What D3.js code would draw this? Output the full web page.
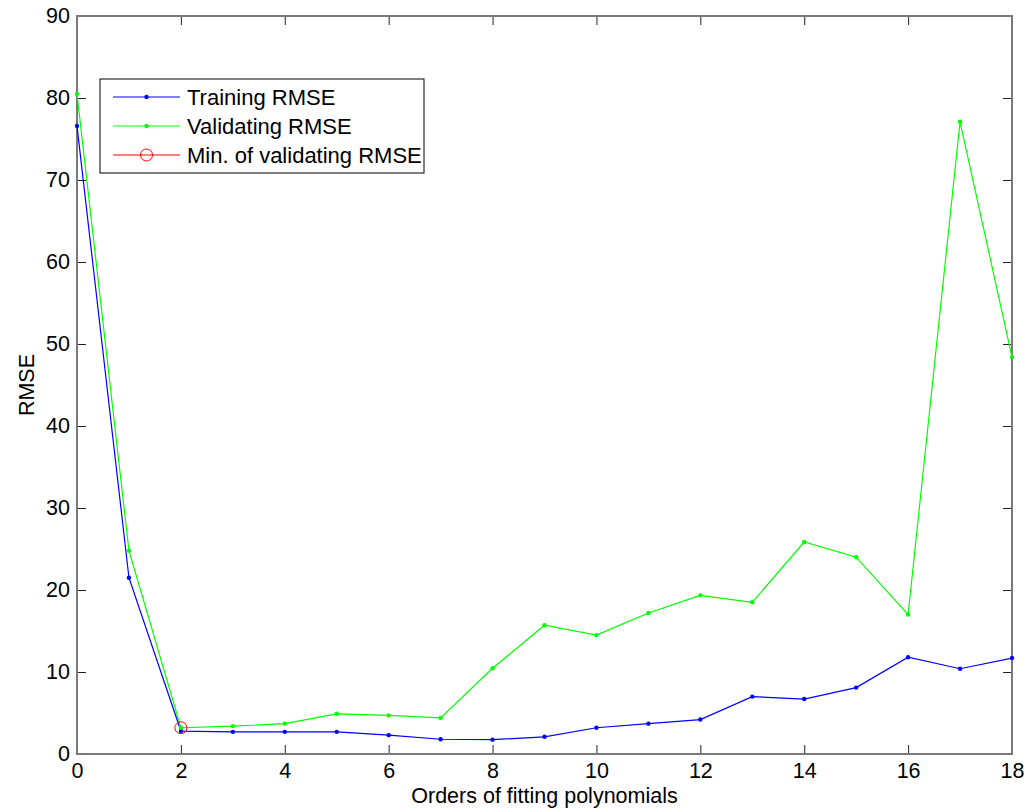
<!DOCTYPE html>
<html>
<head>
<meta charset="utf-8">
<script src="https://cdn.jsdelivr.net/npm/d3@7"></script>
<style>
  body { margin: 0; background: #fff; }
  svg text { font-family: "Liberation Sans", Arial, sans-serif; fill: #000; }
</style>
</head>
<body>
<div id="app"></div>
<script>
let orders = d3.range(0, 19);
let trainingRmse = [76.6, 21.5, 2.8, 2.7, 2.7, 2.7, 2.3, 1.8, 1.75, 2.1, 3.2, 3.7, 4.2, 7.0, 6.7, 8.1, 11.8, 10.4, 11.7];
let validatingRmse = [80.5, 24.8, 3.2, 3.4, 3.7, 4.9, 4.7, 4.4, 10.45, 15.7, 14.5, 17.2, 19.35, 18.5, 25.85, 24.0, 17.0, 77.1, 48.4];
let xTicks = [0, 2, 4, 6, 8, 10, 12, 14, 16, 18];
let yTicks = [0, 10, 20, 30, 40, 50, 60, 70, 80, 90];
let legendLabels = ["Training RMSE", "Validating RMSE", "Min. of validating RMSE"];

let width = 1026;
let height = 811;
let margin = {top: 16, right: 14, bottom: 57, left: 77};
let fontSize = 21.5;

const svg = d3.select("#app")
  .append("svg")
  .attr("width", width)
  .attr("height", height);

const x = d3.scaleLinear([0, 18], [margin.left, width - margin.right]);
const y = d3.scaleLinear([0, 90], [height - margin.bottom, margin.top]);

// ticks on all four sides, pointing inward
const tickLen = 9;
svg.append("g")
  .attr("transform", `translate(0,${y(0)})`)
  .call(d3.axisBottom(x).tickValues(xTicks).tickSize(-tickLen).tickPadding(9))
  .call(g => g.select(".domain").remove())
  .call(g => g.selectAll("text").attr("font-size", fontSize));
svg.append("g")
  .attr("transform", `translate(0,${y(90)})`)
  .call(d3.axisTop(x).tickValues(xTicks).tickSize(-tickLen).tickFormat(""))
  .call(g => g.select(".domain").remove());
svg.append("g")
  .attr("transform", `translate(${x(0)},0)`)
  .call(d3.axisLeft(y).tickValues(yTicks).tickSize(-tickLen).tickPadding(7))
  .call(g => g.select(".domain").remove())
  .call(g => g.selectAll("text").attr("font-size", fontSize));
svg.append("g")
  .attr("transform", `translate(${x(18)},0)`)
  .call(d3.axisRight(y).tickValues(yTicks).tickSize(-tickLen).tickFormat(""))
  .call(g => g.select(".domain").remove());
svg.selectAll(".tick line").attr("stroke", "#222");

// axes box
svg.append("rect")
  .attr("x", x(0))
  .attr("y", y(90))
  .attr("width", x(18) - x(0))
  .attr("height", y(0) - y(90))
  .attr("fill", "none")
  .attr("stroke", "#7a7a7a")
  .attr("stroke-width", 2);

// axis labels
svg.append("text")
  .attr("x", (x(0) + x(18)) / 2)
  .attr("y", 803)
  .attr("text-anchor", "middle")
  .attr("font-size", fontSize)
  .text("Orders of fitting polynomials");
svg.append("text")
  .attr("transform", `translate(34,${(y(0) + y(90)) / 2}) rotate(-90)`)
  .attr("text-anchor", "middle")
  .attr("font-size", fontSize)
  .text("RMSE");

const line = d3.line().x((d, i) => x(orders[i])).y(d => y(d));

function drawSeries(values, color) {
  let g = svg.append("g");
  g.append("path")
    .attr("d", line(values))
    .attr("fill", "none")
    .attr("stroke", color)
    .attr("stroke-width", 1.2);
  g.selectAll("circle")
    .data(values)
    .join("circle")
    .attr("cx", (d, i) => x(orders[i]))
    .attr("cy", d => y(d))
    .attr("r", 2.2)
    .attr("fill", color);
}
drawSeries(trainingRmse, "#0000ff");
drawSeries(validatingRmse, "#00ff00");

// minimum of validating RMSE
let minIdx = d3.minIndex(validatingRmse);
svg.append("circle")
  .attr("cx", x(orders[minIdx]))
  .attr("cy", y(validatingRmse[minIdx]))
  .attr("r", 6)
  .attr("fill", "none")
  .attr("stroke", "#ff0000")
  .attr("stroke-width", 1);

// legend
let legend = svg.append("g");
legend.append("rect")
  .attr("x", 100).attr("y", 79)
  .attr("width", 324).attr("height", 94)
  .attr("fill", "#fff")
  .attr("stroke", "#000")
  .attr("stroke-width", 1);
let legendColors = ["#0000ff", "#00ff00", "#ff0000"];
legendLabels.forEach((label, i) => {
  let ly = 97 + i * 29;
  legend.append("line")
    .attr("x1", 113).attr("x2", 180)
    .attr("y1", ly).attr("y2", ly)
    .attr("stroke", legendColors[i])
    .attr("stroke-width", 1.2);
  if (i < 2) {
    legend.append("circle").attr("cx", 146.5).attr("cy", ly).attr("r", 2.2).attr("fill", legendColors[i]);
  } else {
    legend.append("circle").attr("cx", 146.5).attr("cy", ly).attr("r", 6)
      .attr("fill", "none").attr("stroke", legendColors[i]);
  }
  legend.append("text")
    .attr("x", 187).attr("y", ly)
    .attr("dy", "0.36em")
    .attr("font-size", 22)
    .text(label);
});
</script>
</body>
</html>
